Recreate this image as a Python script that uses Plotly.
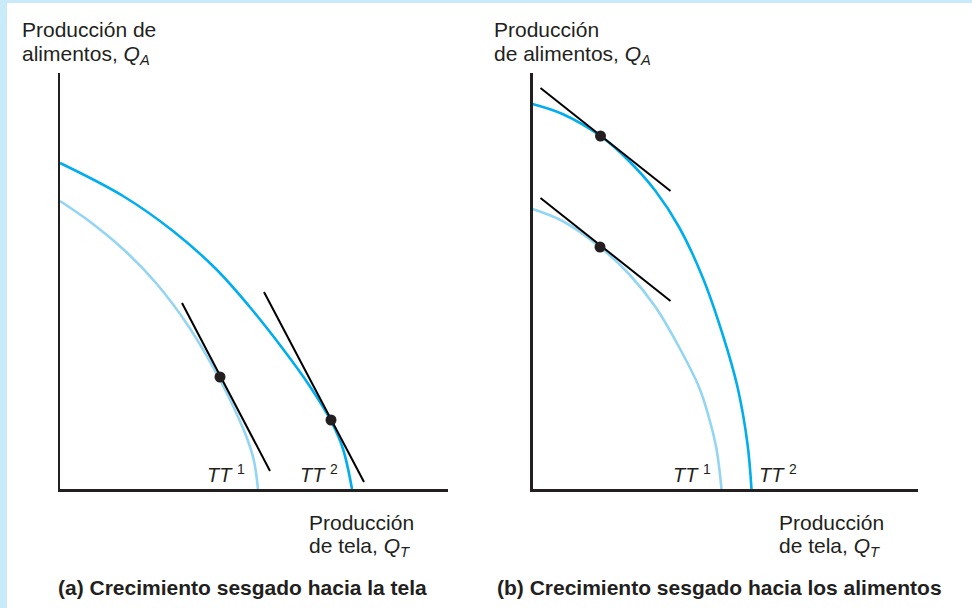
import plotly.graph_objects as go

W, H = 972, 608

# ---------------- data (arbitrary quantity units) ----------------
# Panel (a): growth biased toward cloth
a_tt1_x = [0, 29, 63, 96, 129, 159, 179, 188, 194, 198]
a_tt1_y = [288, 268, 240, 206, 162, 111, 70, 48, 28, 0]
a_tt2_x = [0, 63, 113, 156, 189, 223, 249, 271, 283, 292]
a_tt2_y = [326, 293, 258, 220, 183, 140, 104, 68, 40, 0]
a_tan1_x = [122, 210]
a_tan1_y = [186, 18]
a_tan2_x = [204, 304]
a_tan2_y = [197, 7]
a_pts_x = [160, 271]
a_pts_y = [112, 69]

# Panel (b): growth biased toward food
b_tt1_x = [0, 30, 67.5, 96.5, 123, 146.5, 166.5, 176, 184, 189]
b_tt1_y = [280, 268, 242, 215, 182, 142, 102, 73, 40, 0]
b_tt2_x = [0, 30, 68, 96.5, 123, 146.5, 170, 190, 205, 215, 219]
b_tt2_y = [385, 375, 353, 328, 298, 262, 212, 155, 102, 45, 0]
b_tan1_x = [8, 138]
b_tan1_y = [291, 188]
b_tan2_x = [8, 138]
b_tan2_y = [401, 298]
b_pts_x = [67.5, 68]
b_pts_y = [242, 353]

curve_labels = ["1", "2"]
y_title_a = ["Producción de", "alimentos, <i>Q</i><sub><i>A</i></sub>"]
y_title_b = ["Producción", "de alimentos, <i>Q</i><sub><i>A</i></sub>"]
x_title = ["Producción", "de tela, <i>Q</i><sub><i>T</i></sub>"]
captions = ["(a) Crecimiento sesgado hacia la tela",
            "(b) Crecimiento sesgado hacia los alimentos"]

# ---------------- styling ----------------
C_DARK = "#231f20"
C_TT1 = "#93d5f3"
C_TT2 = "#00aeef"
FONT = "Liberation Sans, Arial, sans-serif"


def px(x):
    return x / W


def py(y):
    return 1 - y / H


fig = go.Figure()


def add_panel(xa, ya, tt1x, tt1y, tt2x, tt2y, t1x, t1y, t2x, t2y, dx, dy):
    fig.add_trace(go.Scatter(x=tt1x, y=tt1y, mode="lines", line=dict(color=C_TT1, width=2.6, shape="spline"),
                             xaxis=xa, yaxis=ya, hoverinfo="skip"))
    fig.add_trace(go.Scatter(x=tt2x, y=tt2y, mode="lines", line=dict(color=C_TT2, width=2.6, shape="spline"),
                             xaxis=xa, yaxis=ya, hoverinfo="skip"))
    for tx, ty in ((t1x, t1y), (t2x, t2y)):
        fig.add_trace(go.Scatter(x=tx, y=ty, mode="lines", line=dict(color="#000000", width=2),
                                 xaxis=xa, yaxis=ya, hoverinfo="skip"))
    fig.add_trace(go.Scatter(x=dx, y=dy, mode="markers", marker=dict(color=C_DARK, size=11),
                             xaxis=xa, yaxis=ya, hoverinfo="skip", cliponaxis=False))


add_panel("x", "y", a_tt1_x, a_tt1_y, a_tt2_x, a_tt2_y, a_tan1_x, a_tan1_y, a_tan2_x, a_tan2_y, a_pts_x, a_pts_y)
add_panel("x2", "y2", b_tt1_x, b_tt1_y, b_tt2_x, b_tt2_y, b_tan1_x, b_tan1_y, b_tan2_x, b_tan2_y, b_pts_x, b_pts_y)

axis_common = dict(showline=True, linecolor=C_DARK, linewidth=2.5, showgrid=False, zeroline=False,
                   showticklabels=False, ticks="", fixedrange=True)
y_dom = [py(489), py(73)]
fig.update_layout(
    width=W, height=H,
    margin=dict(l=0, r=0, t=0, b=0),
    paper_bgcolor="#c8eaf9",
    plot_bgcolor="rgba(0,0,0,0)",
    showlegend=False,
    xaxis=dict(domain=[px(60), px(448)], range=[0, 388], anchor="y", **axis_common),
    yaxis=dict(domain=y_dom, range=[0, 416], anchor="x", **axis_common),
    xaxis2=dict(domain=[px(532.5), px(918)], range=[0, 385.5], anchor="y2", **axis_common),
    yaxis2=dict(domain=y_dom, range=[0, 416], anchor="x2", **axis_common),
    shapes=[dict(type="rect", xref="paper", yref="paper", x0=px(7), x1=1.0, y0=0, y1=py(3),
                 fillcolor="white", line=dict(width=0), layer="below")],
)

ann = []


def text(x, y, s, size=21, bold=False, anchor="left"):
    ann.append(dict(x=px(x), y=py(y), xref="paper", yref="paper", text=("<b>%s</b>" % s) if bold else s,
                    showarrow=False, xanchor=anchor, yanchor="middle",
                    font=dict(family=FONT, size=size, color=C_DARK)))


# axis titles
text(20, 30, y_title_a[0])
text(20, 55, y_title_a[1])
text(492, 30, y_title_b[0])
text(492, 55, y_title_b[1])
text(307, 522, x_title[0])
text(307, 547, x_title[1])
text(777, 522, x_title[0])
text(777, 547, x_title[1])
# captions
text(56, 587, captions[0], size=21, bold=True)
text(495, 587, captions[1], size=21, bold=True)

# curve labels  TT^1, TT^2 (positions in data coordinates)
lab_pos = [("x", "y", 145, 1), ("x", "y", 238, 1), ("x2", "y2", 138, 1), ("x2", "y2", 224, 1)]
for i, (xa, ya, lx, ly) in enumerate(lab_pos):
    ann.append(dict(x=lx, y=ly, xref=xa, yref=ya, showarrow=False, xanchor="left", yanchor="bottom",
                    text="<i>TT</i> <sup>%s</sup>" % curve_labels[i % 2],
                    font=dict(family=FONT, size=20, color=C_DARK)))

fig.update_layout(annotations=ann)
fig.write_html("out.html", config={"displayModeBar": False, "staticPlot": True},
               post_script="document.body.style.margin='0';document.body.style.padding='0';"
                           "document.body.style.overflow='hidden';")
